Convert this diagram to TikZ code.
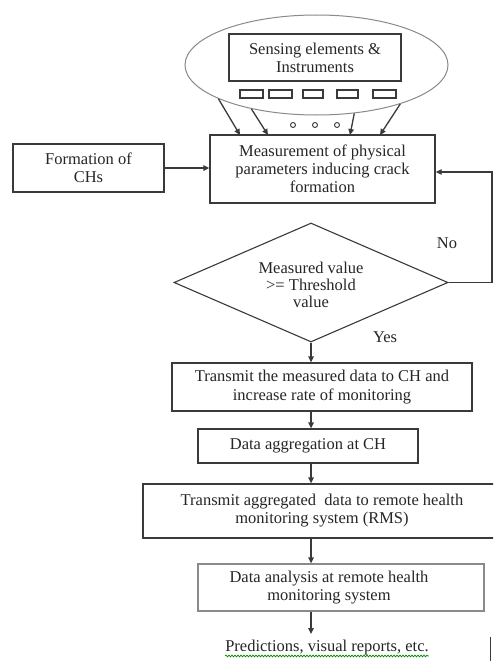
\documentclass[tikz,border=0pt]{standalone}
\usepackage{fontspec}
\setmainfont{Liberation Serif}
\usetikzlibrary{shapes.geometric,arrows.meta,decorations.pathmorphing}
\definecolor{ln}{HTML}{3A3A3A}
\definecolor{lg}{HTML}{8A8A8A}
\definecolor{tx}{HTML}{262626}
\begin{document}
\begin{tikzpicture}[x=1pt,y=-1pt,
  font=\fontsize{16.5}{18}\selectfont,
  box/.style={draw=ln,line width=1.3pt,inner sep=0pt,align=center,text=tx},
  sbox/.style={draw=ln,line width=1.1pt,inner sep=0pt,minimum height=8},
  dot/.style={draw=ln,circle,minimum size=5,inner sep=0pt,line width=0.9pt},
  lbl/.style={text=tx,inner sep=0pt},
  arr/.style={draw=ln,line width=1.3pt,-{Triangle[length=6pt,width=5.5pt]}},
]
\useasboundingbox (0,0) rectangle (493,661);
\clip (0,0) rectangle (493,661);
\fill[white] (0,0) rectangle (493,661);

% sensing ellipse
\node[ellipse,draw=lg,line width=1pt,minimum width=263,minimum height=100,inner sep=0pt] (ell) at (316.5,65) {};
\node[box,minimum width=172,minimum height=47] (sens) at (315,57.5) {Sensing elements \&\\Instruments};
\node[sbox,minimum width=23] (s1) at (251.5,94) {};
\node[sbox,minimum width=23] (s2) at (280.5,94) {};
\node[sbox,minimum width=20] (s3) at (313,94) {};
\node[sbox,minimum width=21] (s4) at (347.5,94) {};
\node[sbox,minimum width=23] (s5) at (384.5,94) {};
\node[dot] (c1) at (293,125) {};
\node[dot] (c2) at (315,125) {};
\node[dot] (c3) at (337,125) {};

% main boxes
\node[box,minimum width=225,minimum height=68] (meas) at (322.5,169) {Measurement of physical\\parameters inducing crack\\formation};
\node[box,minimum width=151,minimum height=48] (form) at (88.5,168) {Formation of\\CHs};
\node[diamond,draw=ln,line width=1.1pt,minimum width=274,minimum height=119,inner sep=0pt] (dia) at (311,282.5) {};
\node[lbl,align=center,font=\fontsize{16.5}{17}\selectfont] (dtext) at (311,285) {Measured value\\>= Threshold\\value};
\node[box,minimum width=300,minimum height=48,font=\fontsize{16.5}{19.5}\selectfont] (tx1) at (322,387) {Transmit the measured data to CH and\\increase rate of monitoring};
\node[box,minimum width=220,minimum height=34] (agg) at (308,446) {Data aggregation at CH};
\node[box,minimum width=358,minimum height=54] (tx2) at (322,511) {Transmit aggregated\ \ data to remote health\\monitoring system (RMS)};
\node[box,draw=lg,minimum width=286,minimum height=47] (ana) at (341,587.5) {};
\node[lbl,align=center] (anatext) at (329,587.5) {Data analysis at remote health\\monitoring system};
\node[lbl] (pred) at (327,648) {Predictions, visual reports, etc.};
\draw[green!55!black,line width=0.7pt,decorate,decoration={snake,amplitude=0.9pt,segment length=3pt}]
  ([yshift=-4pt]pred.base west) -- ([yshift=-4pt]pred.base east);

\node[lbl] (no) at (447,243) {No};
\node[lbl] (yes) at (385,337) {Yes};

% connectors from sensors
\coordinate (m1) at (240,135);
\coordinate (m2) at (268,135);
\coordinate (m3) at (350,135);
\coordinate (m4) at (380,135);
\draw[arr] (ell.199) -- (m1);
\draw[arr] (ell.214) -- (m2);
\draw[arr] (ell.308) -- (m3);
\draw[arr] (ell.335) -- (m4);

\draw[arr] (form.east) -- (form.east -| meas.west);
\coordinate (lp) at (492,172);
\draw[arr] (dia.east) -| (lp) -- (lp -| meas.east);

\coordinate (ax) at (311,0);
\draw[arr] (dia.south) -- (dia.south |- tx1.north);
\draw[arr] (tx1.south -| ax) -- (agg.north -| ax);
\draw[arr] (agg.south -| ax) -- (tx2.north -| ax);
\draw[arr] (tx2.south -| ax) -- (ana.north -| ax);
\coordinate (pt) at (311,634);
\draw[arr] (ana.south -| ax) -- (pt);

\coordinate (vt) at (490,637);
\coordinate (vb) at (490,661);
\draw[ln,line width=1pt] (vt) -- (vb);
\end{tikzpicture}
\end{document}
